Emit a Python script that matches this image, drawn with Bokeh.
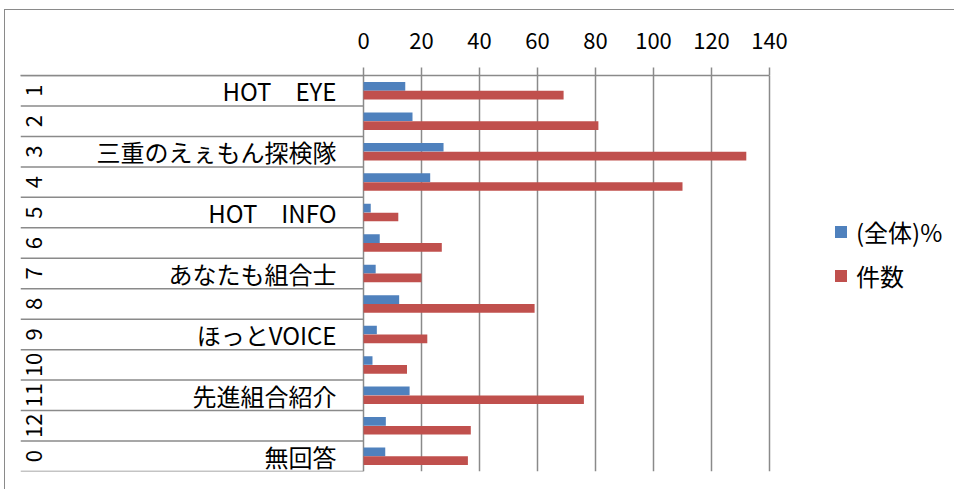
import math
from bokeh.plotting import figure
from bokeh.models import Range1d, FixedTicker, Legend, LegendItem, ColumnDataSource
from bokeh.transform import dodge
from bokeh.core.properties import value
from bokeh.embed import file_html
from bokeh.resources import INLINE

# ---- data ----
numbers = ["1", "2", "3", "4", "5", "6", "7", "8", "9", "10", "11", "12", "0"]
labels = ["HOT　EYE", "", "三重のえぇもん探検隊", "", "HOT　INFO", "", "あなたも組合士",
          "", "ほっとVOICE", "", "先進組合紹介", "", "無回答"]
percent = [14.4, 16.9, 27.6, 23.0, 2.5, 5.6, 4.2, 12.3, 4.6, 3.1, 15.9, 7.7, 7.5]
counts = [69, 81, 132, 110, 12, 27, 20, 59, 22, 15, 76, 37, 36]
x_ticks = [0, 20, 40, 60, 80, 100, 120, 140]
series_names = ["(全体)%", "件数"]

FONT = "Noto Sans CJK JP"
GRAY = "#8a8a8a"
BLUE = "#4F81BD"
RED = "#C0504D"

n = len(numbers)
centers = [i + 0.5 for i in range(n)]
bounds = list(range(n + 1))

# layout (pixels)
W, H = 950, 480
left_px, right_px = 15, 5
label_px = 343      # width of the category label area left of the value axis
plot_px = 406       # width of the value area (0..140)
legend_px = W - left_px - right_px - label_px - plot_px
x_max = x_ticks[-1]
x_start = -label_px * x_max / plot_px
x_end = x_max + legend_px * x_max / plot_px

src = ColumnDataSource(dict(pos=centers, pct=percent, cnt=counts,
                            lab=labels, num=numbers))
sep = ColumnDataSource(dict(b=bounds))

p = figure(width=W, height=H, x_range=Range1d(x_start, x_end), y_range=Range1d(n, 0),
           output_backend="svg", toolbar_location=None,
           x_axis_location="above", y_axis_location=None,
           min_border_left=left_px, min_border_right=right_px,
           min_border_top=65, min_border_bottom=19)
p.outline_line_color = None
p.background_fill_color = "white"
p.border_fill_color = "white"
p.styles = {"margin-left": "4px", "margin-top": "9px",
            "border-left": "1px solid #8a8a8a", "border-top": "1px solid #8a8a8a"}

# top value axis
xa = p.xaxis[0]
xa.ticker = FixedTicker(ticks=x_ticks)
xa.bounds = (x_start, x_max)
xa.major_tick_out = 8
xa.major_tick_in = 0
xa.minor_tick_out = 0
xa.minor_tick_in = 0
xa.axis_line_color = GRAY
xa.axis_line_width = 1.5
xa.major_tick_line_color = GRAY
xa.major_tick_line_width = 1.5
xa.major_label_text_font = FONT
xa.major_label_text_font_size = "22px"
xa.major_label_text_color = "black"
xa.major_label_standoff = 19

p.xgrid.ticker = FixedTicker(ticks=x_ticks)
p.xgrid.grid_line_color = GRAY
p.xgrid.grid_line_width = 1.5
p.ygrid.visible = False

# category separators in the label area
p.segment(x0=x_start, x1=0, y0="b", y1="b", source=sep,
          line_color=GRAY, line_width=1.5)

# category labels
p.text(x=0, y="pos", text="lab", source=src, x_offset=-27,
       text_align="right", text_baseline="middle",
       text_font=value(FONT), text_font_size="24px", text_color="black")
p.text(x=x_start, y="pos", text="num", source=src, x_offset=13, angle=math.pi / 2,
       text_align="center", text_baseline="middle",
       text_font=value(FONT), text_font_size="22px", text_color="black")

r1 = p.hbar(y=dodge("pos", -0.145, range=p.y_range), left=0, right="pct", height=0.285,
            source=src, fill_color=BLUE, line_color=None)
r2 = p.hbar(y=dodge("pos", 0.145, range=p.y_range), left=0, right="cnt", height=0.285,
            source=src, fill_color=RED, line_color=None)

legend = Legend(items=[LegendItem(label=series_names[0], renderers=[r1]),
                       LegendItem(label=series_names[1], renderers=[r2])],
                location=(label_px + plot_px + 64, 178), orientation="vertical")
legend.glyph_width = 15
legend.glyph_height = 15
legend.label_standoff = 8
legend.spacing = 9
legend.padding = 0
legend.margin = 0
legend.border_line_color = None
legend.background_fill_alpha = 0
legend.label_text_font = FONT
legend.label_text_font_size = "24px"
legend.label_text_color = "black"
p.add_layout(legend, "center")

open("out.html", "w").write(file_html(p, INLINE))
